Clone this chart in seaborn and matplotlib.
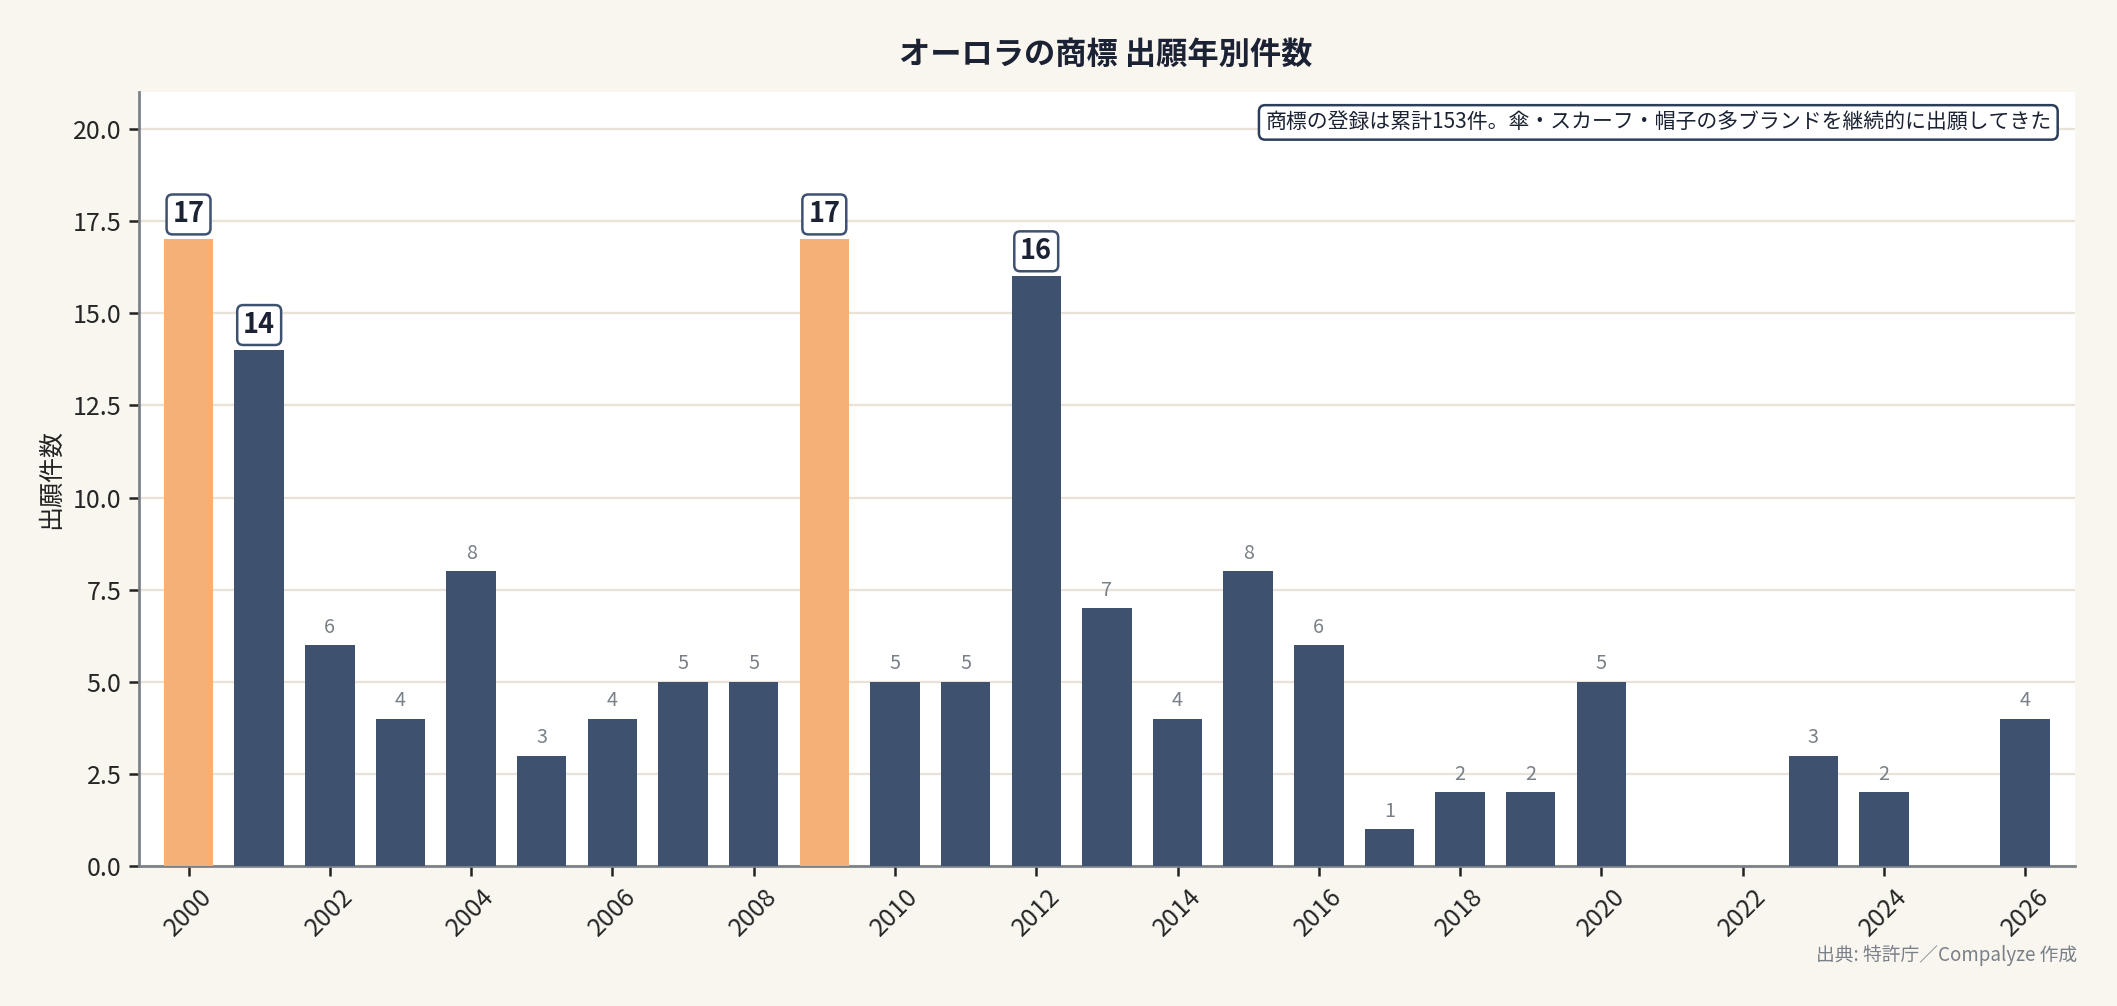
import matplotlib
matplotlib.use('Agg')
import matplotlib.pyplot as plt
import seaborn as sns
import pandas as pd

# data
years = [2000, 2001, 2002, 2003, 2004, 2005, 2006, 2007, 2008, 2009, 2010, 2011,
         2012, 2013, 2014, 2015, 2016, 2017, 2018, 2019, 2020, 2023, 2024, 2026]
counts = [17, 14, 6, 4, 8, 3, 4, 5, 5, 17, 5, 5,
          16, 7, 4, 8, 6, 1, 2, 2, 5, 3, 2, 4]
xtick_years = list(range(2000, 2027, 2))

title = 'オーロラの商標 出願年別件数'
note = '商標の登録は累計153件。傘・スカーフ・帽子の多ブランドを継続的に出願してきた'
source = '出典: 特許庁／Compalyze 作成'

NAVY = '#3e516f'
ORANGE = '#f4b077'
BG = '#f9f6f0'

sns.set_theme(style='white')
plt.rcParams['font.family'] = ['Noto Sans CJK JP', 'DejaVu Sans']

df = pd.DataFrame({'year': years, 'count': counts})
peak = max(counts)
df['kind'] = ['peak' if c == peak else 'normal' for c in counts]

fig = plt.figure(figsize=(2117 / 150, 1006 / 150), dpi=150, facecolor=BG)
ax = fig.add_axes([0.0657, 0.139, 0.9143, 0.7695])
ax.set_facecolor('white')

sns.barplot(data=df, x='year', y='count', hue='kind', native_scale=True,
            palette={'peak': ORANGE, 'normal': NAVY}, width=0.7, dodge=False,
            saturation=1, legend=False, linewidth=0, ax=ax, zorder=3)

ax.set_xlim(1999.3, 2026.7)
ax.set_ylim(0, 21)
ax.set_yticks([0, 2.5, 5, 7.5, 10, 12.5, 15, 17.5, 20])
ax.set_yticklabels([f'{v:.1f}' for v in ax.get_yticks()], fontsize=12)
ax.set_xticks(xtick_years)
ax.set_xticklabels([str(y) for y in xtick_years], rotation=45, fontsize=12)
ax.tick_params(axis='both', length=5, width=1.2, color='#222222', bottom=True, left=True)
ax.yaxis.grid(True, color='#e8e2d8', linewidth=1.1, zorder=0)
ax.set_axisbelow(True)
sns.despine(ax=ax)
for s in ['left', 'bottom']:
    ax.spines[s].set_color('#7a8088')
    ax.spines[s].set_linewidth(1.3)

ax.set_xlabel('')
ax.set_ylabel('出願件数', fontsize=12, color='#222222')

# value labels: top 4 boxed
top_vals = sorted(counts, reverse=True)[:4]
for y, c in zip(years, counts):
    if c >= top_vals[-1]:
        ax.text(y, c + 0.3, str(c), ha='center', va='bottom', fontsize=13,
                fontweight='bold', color='#1a2233', zorder=5,
                bbox=dict(boxstyle='round,pad=0.22', fc='white', ec='#3e516f', lw=1.2))
    else:
        ax.text(y, c + 0.2, str(c), ha='center', va='bottom', fontsize=9.5,
                color='#7a8088', zorder=5)

ax.text(0.988, 0.975, note, transform=ax.transAxes, ha='right', va='top',
        fontsize=10, color='#1a2233', zorder=6,
        bbox=dict(boxstyle='round,pad=0.3', fc='white', ec='#2c3e5a', lw=1.2))

fig.text(0.5225, 0.945, title, ha='center', va='center', fontsize=15,
         fontweight='bold', color='#1a2233')
fig.text(0.981, 0.05, source, ha='right', va='center', fontsize=9, color='#7a8088')

fig.savefig('out.png', dpi=150, facecolor=BG)
